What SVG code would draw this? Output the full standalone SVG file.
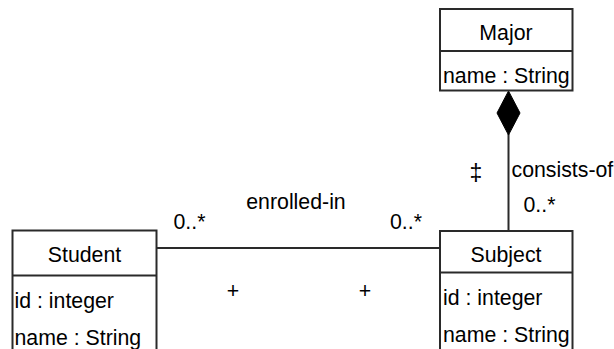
<svg xmlns="http://www.w3.org/2000/svg" width="614" height="349" viewBox="0 0 614 349">
<style>
.box{fill:#fff;stroke:#2a2a2a;stroke-width:2}
.ln{stroke:#2a2a2a;stroke-width:2;fill:none}
text{font-family:"Liberation Sans",Arial,sans-serif;font-size:21.3px;fill:#000}
.c{text-anchor:middle}
</style>
<rect width="614" height="349" fill="#fff"/>
<g id="connectors">
<line class="ln" x1="156.5" y1="248" x2="440" y2="248"/>
<line class="ln" x1="508.5" y1="134" x2="508.5" y2="231"/>
<polygon points="508.5,91 520,113 508.5,135 497,113" fill="#000" stroke="#000" stroke-width="1"/>
<text x="296" y="208.5" class="c">enrolled-in</text>
<text x="173.5" y="228.5">0..*</text>
<text x="390" y="228.5">0..*</text>
<text x="233" y="297.5" class="c">+</text>
<text x="365" y="297.5" class="c">+</text>
<text x="476" y="181" class="c" style="font-size:23px">‡</text>
<text x="511.5" y="176.5">consists-of</text>
<text x="523.5" y="211.5">0..*</text>
</g>
<g id="Major">
<rect class="box" x="440" y="9" width="132.5" height="81.5"/>
<line class="ln" x1="440" y1="51" x2="572.5" y2="51"/>
<text x="506" y="40" class="c">Major</text>
<text x="443" y="83">name : String</text>
</g>
<g id="Subject">
<rect class="box" x="440" y="231" width="132.5" height="130"/>
<line class="ln" x1="440" y1="272.5" x2="572.5" y2="272.5"/>
<text x="506" y="261.5" class="c">Subject</text>
<text x="443" y="305">id : integer</text>
<text x="443" y="341.5">name : String</text>
</g>
<g id="Student">
<rect class="box" x="12.5" y="230.5" width="144" height="130"/>
<line class="ln" x1="12.5" y1="275.5" x2="156.5" y2="275.5"/>
<text x="84.5" y="261.5" class="c">Student</text>
<text x="14.5" y="308">id : integer</text>
<text x="14.5" y="344.5">name : String</text>
</g>
</svg>
